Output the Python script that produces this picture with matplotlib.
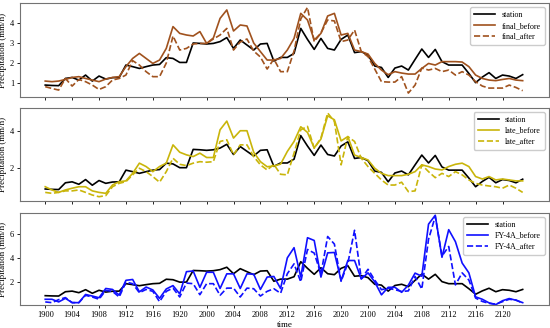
import matplotlib
matplotlib.use('Agg')
import matplotlib.pyplot as plt
import numpy as np

plt.rcParams['font.family'] = ['Liberation Serif', 'DejaVu Serif']

# x categories: 1900-1923, 2000-2023, 2100-2123
times = [f'{c}{k:02d}' for c in (19, 20, 21) for k in range(24)]

station = [0.9, 0.88, 0.87, 1.23, 1.28, 1.15, 1.4, 1.1, 1.35, 1.2, 1.27, 1.28,
           1.9, 1.82, 1.73, 1.82, 1.9, 1.93, 2.27, 2.23, 2.03, 2.03, 3.0, 2.98,
           2.95, 2.98, 3.07, 3.27, 2.73, 3.15, 2.9, 2.65, 2.95, 2.98, 2.1, 2.28,
           2.28, 2.48, 3.73, 3.18, 2.68, 3.23, 2.73, 2.65, 3.18, 3.4, 2.52, 2.57,
           2.4, 1.85, 1.78, 1.28, 1.75, 1.85, 1.65, 2.18, 2.7, 2.28, 2.68, 2.07,
           1.9, 1.9, 1.9, 1.48, 1.02, 1.3, 1.52, 1.23, 1.4, 1.35, 1.23, 1.42]

final_before = [1.1, 1.07, 1.1, 1.18, 1.28, 1.32, 1.23, 1.15, 1.07, 1.2, 1.28, 1.32,
                1.82, 2.23, 2.48, 2.23, 1.98, 2.15, 2.73, 3.82, 3.48, 3.4, 3.35, 3.57,
                2.98, 3.25, 4.23, 4.65, 3.6, 3.9, 3.85, 3.0, 2.57, 2.15, 2.15, 2.23,
                2.65, 3.23, 4.48, 4.15, 3.15, 3.48, 4.35, 4.48, 3.4, 3.48, 2.65, 2.57,
                2.45, 1.98, 1.65, 1.42, 1.57, 1.5, 1.45, 1.45, 1.73, 1.98, 1.9, 2.07,
                2.07, 2.07, 2.05, 1.82, 1.4, 1.23, 1.15, 1.12, 1.18, 1.23, 1.15, 1.12]
final_after = [0.82, 0.73, 0.65, 1.23, 0.85, 1.18, 1.07, 0.9, 0.68, 0.82, 1.15, 1.23,
               1.4, 2.12, 1.9, 1.57, 1.32, 1.32, 2.0, 3.35, 2.65, 2.73, 2.95, 2.98,
               2.98, 3.2, 3.4, 3.73, 2.65, 3.05, 3.2, 2.6, 2.3, 1.7, 2.2, 1.57,
               1.57, 2.6, 4.2, 4.78, 3.07, 3.5, 4.15, 4.1, 3.07, 3.15, 3.65, 2.57,
               2.32, 1.7, 1.07, 1.05, 1.05, 1.32, 0.5, 0.9, 1.75, 1.65, 1.73, 1.57,
               1.65, 1.4, 1.57, 1.4, 1.07, 0.85, 0.75, 0.75, 0.75, 0.9, 0.78, 0.62]

late_before = [1.02, 0.85, 0.72, 0.85, 0.94, 1.02, 1.02, 0.8, 0.72, 0.67, 1.11, 1.29,
               1.33, 1.73, 2.27, 2.09, 1.82, 2.09, 2.27, 3.24, 2.85, 2.71, 2.62, 2.8,
               2.57, 2.57, 4.04, 4.5, 3.6, 3.99, 3.99, 2.85, 2.35, 2.08, 2.12, 2.22,
               2.89, 3.42, 4.2, 3.9, 3.08, 3.55, 4.78, 4.57, 3.45, 3.68, 2.7, 2.57,
               2.44, 2.0, 1.73, 1.61, 1.61, 1.61, 1.68, 1.82, 2.18, 2.09, 1.96, 1.91,
               2.09, 2.21, 2.27, 2.09, 1.56, 1.43, 1.56, 1.38, 1.43, 1.38, 1.33, 1.33]
late_after = [0.72, 0.67, 0.72, 0.8, 0.8, 0.85, 0.72, 0.58, 0.49, 0.55, 1.02, 1.2,
              1.29, 1.65, 2.0, 1.82, 1.56, 1.26, 1.82, 2.53, 2.21, 2.14, 2.27, 2.35,
              2.32, 2.35, 3.42, 3.51, 2.71, 3.24, 3.24, 2.62, 2.18, 1.91, 2.2, 1.68,
              1.65, 2.8, 4.04, 4.22, 3.06, 3.6, 4.93, 4.48, 2.18, 3.68, 3.42, 2.53,
              2.09, 1.73, 1.38, 1.11, 1.11, 1.26, 0.76, 0.8, 2.18, 1.82, 1.5, 1.73,
              1.56, 1.82, 1.65, 1.38, 1.2, 1.11, 1.06, 1.02, 0.94, 1.11, 0.94, 0.72]

fy_before = [0.6, 0.6, 0.38, 0.68, 0.32, 0.32, 1.0, 0.87, 0.73, 1.5, 1.42, 0.95,
             2.18, 2.25, 1.22, 1.62, 1.38, 0.68, 1.46, 1.74, 1.05, 2.9, 2.96, 1.59,
             2.85, 2.85, 1.5, 2.72, 2.72, 1.5, 2.72, 2.69, 1.42, 2.45, 2.5, 1.5,
             4.05, 4.9, 2.45, 5.73, 5.5, 2.45, 4.47, 4.5, 2.15, 3.83, 3.83, 2.3,
             2.8, 2.05, 0.97, 1.6, 1.6, 1.18, 1.78, 2.78, 2.52, 6.86, 7.6, 4.1,
             6.4, 5.4, 3.62, 2.8, 0.8, 0.6, 0.3, 0.15, 0.48, 0.66, 0.52, 0.32]
fy_after = [0.38, 0.32, 0.57, 0.74, 0.32, 0.32, 0.93, 0.79, 0.6, 1.34, 1.26, 0.79,
            2.03, 1.9, 1.15, 1.42, 1.26, 0.4, 1.26, 1.53, 0.79, 1.95, 1.9, 0.98,
            1.9, 1.9, 0.93, 1.53, 1.53, 0.79, 1.53, 1.48, 0.87, 1.26, 1.48, 1.1,
            2.73, 3.55, 2.05, 4.75, 4.45, 2.7, 5.83, 5.2, 2.1, 3.6, 6.35, 2.3,
            3.1, 2.2, 1.4, 1.52, 1.4, 1.25, 1.3, 2.5, 1.45, 5.6, 7.5, 4.2,
            5.0, 1.8, 2.8, 2.2, 0.7, 0.42, 0.26, 0.2, 0.4, 0.6, 0.54, 0.28]

panels = [
    ('final', final_before, final_after, '#a0521e', [1, 2, 3, 4], (0.3, 5.0)),
    ('late', late_before, late_after, '#c9b50a', [2, 4], (0.26, 5.2)),
    ('FY-4A', fy_before, fy_after, '#1010ff', [2, 4, 6], (0.12, 7.8)),
]

fig = plt.figure(figsize=(5.5, 3.28), dpi=100)
x = np.arange(len(times))
boxes = [(0.704, 0.991), (0.387, 0.671), (0.070, 0.351)]

for k, (name, before, after, col, yt, ylim) in enumerate(panels):
    b, t = boxes[k]
    ax = fig.add_axes([0.037, b, 0.961, t - b])
    ax.plot(x, station, color='black', lw=1.2, label='station')
    ax.plot(x, before, color=col, lw=1.2, label=name + '_before')
    ax.plot(x, after, color=col, lw=1.2, ls='--', label=name + '_after')
    ax.set_xlim(-3.7, 74.9)
    ax.set_ylim(*ylim)
    ax.set_yticks(yt)
    ax.set_xticks(x[::4])
    ax.tick_params(labelsize=6, length=2.5, width=0.6, pad=2)
    if k == 2:
        ax.set_xticklabels(times[::4])
        ax.set_xlabel('time', fontsize=6.5, labelpad=1)
    else:
        ax.set_xticklabels([])
    ax.set_ylabel('Precipitation (mm/h)', fontsize=6.5, labelpad=2)
    for s in ax.spines.values():
        s.set_color('0.45')
        s.set_linewidth(0.8)
    ax.legend(loc='upper right', fontsize=5.8, handlelength=2.6, borderpad=0.5,
              labelspacing=0.35, framealpha=1)

fig.savefig('out.png', dpi=100)
